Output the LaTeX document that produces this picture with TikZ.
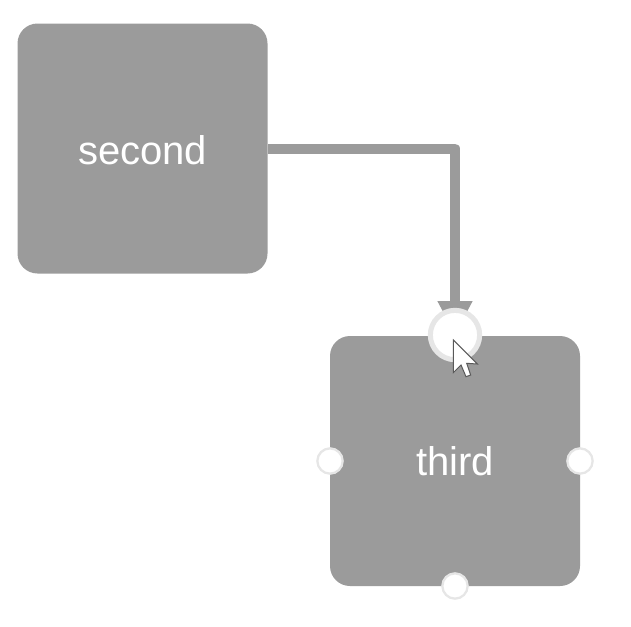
\documentclass[tikz,border=0pt]{standalone}
\usepackage{fontspec}
\setmainfont{Liberation Sans}
\usetikzlibrary{arrows.meta,backgrounds}
\definecolor{boxgray}{HTML}{9B9B9B}
\definecolor{ringgray}{HTML}{E6E6E6}
\tikzset{
  x=0.75pt,y=-0.75pt,
  card/.style={fill=boxgray,rounded corners=15pt,minimum width=187.5pt,minimum height=187.5pt,inner sep=0pt,text=white,font=\fontsize{30pt}{34pt}\selectfont},
  port/.style={circle,fill=white,draw=ringgray,line width=1.7pt,minimum size=19pt,inner sep=0pt},
  activeport/.style={circle,fill=white,draw=ringgray,line width=3.8pt,minimum size=37pt,inner sep=0pt},
  link/.style={draw=boxgray,line width=7.5pt,line join=round,-{Triangle[length=25.5pt,width=24.5pt]}},
  pointer/.style={fill=white,draw=black!65,line width=0.75pt,line join=miter}
}
\begin{document}
\begin{tikzpicture}
\useasboundingbox (0,0) rectangle (631,626);
\node[card] (second) at (142.5,148.5) {\raisebox{-0.75pt}[\height][0pt]{second}};
\node[card] (third) at (455,461) {third};
\node[activeport] (ptop) at (455,335) {};
\node[port] (pleft) at (330,461) {};
\node[port] (pright) at (580,461) {};
\node[port] (pbottom) at (455,586) {};
\begin{scope}[on background layer]
\draw[link] (second.east) -| (ptop.center);
\end{scope}
\draw[pointer] (453.3,340) -- (453.3,372.7) -- (461,365) -- (466,376.7) -- (470.7,375) -- (466.7,363.3) -- (477.3,364) -- cycle;
\end{tikzpicture}
\end{document}
